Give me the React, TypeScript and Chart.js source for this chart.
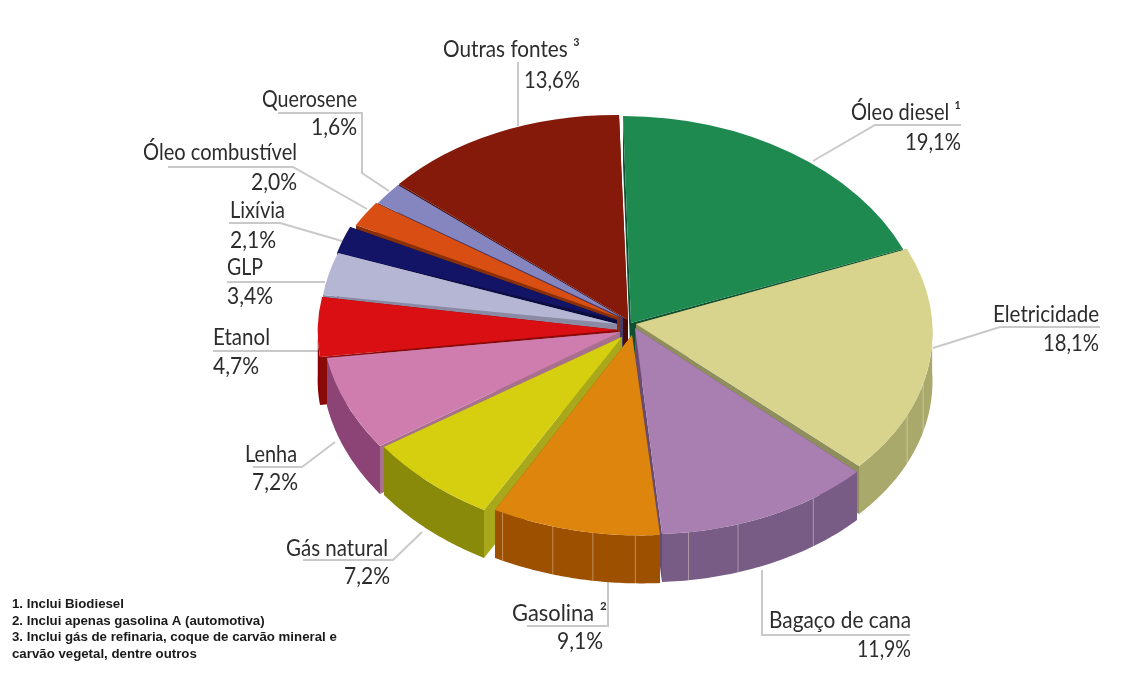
import React, { useEffect, useRef } from "react";
import { Chart, registerables } from "chart.js";

Chart.register(...registerables);

const categories = ["Óleo diesel ¹", "Eletricidade", "Bagaço de cana", "Gasolina ²", "Gás natural", "Lenha", "Etanol", "GLP", "Lixívia", "Óleo combustível", "Querosene", "Outras fontes ³"];
const shares = [19.1, 18.1, 11.9, 9.1, 7.2, 7.2, 4.7, 3.4, 2.1, 2.0, 1.6, 13.6];
const topColors = ["#1e8a50", "#d9d48d", "#a87fb0", "#de850d", "#d5cf10", "#cf7dae", "#d90f14", "#b5b6d3", "#141466", "#d94e12", "#8585c0", "#861a0a"];
const wallColors = ["#14603a", "#aaa96c", "#795c86", "#9c5000", "#8a8a0a", "#8c4477", "#8a0000", "#8a8aa5", "#0c0c40", "#8a3008", "#5f5f90", "#5c1005"];
const cutColors = ["#0e5030", "#8f8f5e", "#6b4a70", "#8a5a10", "#a9a81a", "#a8708c", "#8a0a0a", "#8a8aa5", "#0c0c40", "#8a3008", "#4a3a66", "#4a0c04"];
const footnotes = ["1. Inclui Biodiesel", "2. Inclui apenas gasolina A (automotiva)", "3. Inclui gás de refinaria, coque de carvão mineral e", "carvão vegetal, dentre outros"];

// layout of the drawing (not data): the perspective warp of each library arc
const RX = 307, DEPTH = 48;
// [tip, corner at slice start, corner at slice end]
const warp: number[][][] = [
  [[631, 323], [623, 116], [903, 249]],
  [[636, 324], [907, 249], [859, 466]],
  [[635, 328], [857, 472], [662, 534]],
  [[632, 335], [660, 535], [495, 510]],
  [[622, 337], [484, 510], [384, 447]],
  [[620, 332], [380, 446], [327, 358]],
  [[618, 330], [320, 357], [322, 297]],
  [[617, 324], [323, 295], [338, 253]],
  [[617, 320], [337, 253], [350, 227]],
  [[620, 318], [356, 225], [376, 203]],
  [[623, 318], [378, 203], [398, 185]],
  [[628, 320], [399, 184], [619, 115]],
];
const wallSeams: number[][] = [[], [907, 923], [688, 738, 813], [503, 553, 593, 635], [], [], [], [], [], [], [], []];
// [align, x, name baseline, value x, value baseline, name width, value width]
const labelPos: [CanvasTextAlign, number, number, number, number, number, number][] = [
  ["right", 961, 120, 961, 150, 110, 56],
  ["right", 1099, 322, 1099, 351, 106, 56],
  ["right", 911, 628, 911, 657, 142, 54],
  ["right", 607, 621, 603, 649, 95, 46],
  ["right", 388, 556, 390, 584, 102, 46],
  ["right", 297, 462, 298, 490, 52, 46],
  ["left", 213, 345, 213, 374, 57, 46],
  ["left", 227, 275, 227, 304, 36, 46],
  ["left", 230, 218, 230, 248, 55, 46],
  ["right", 297, 160, 297, 190, 154, 46],
  ["right", 357, 107, 357, 135, 95, 46],
  ["right", 580, 57, 580, 88, 137, 56],
];
const leaders: number[][][] = [
  [[813, 161], [875, 125], [961, 125]],
  [[933, 348], [1000, 327], [1100, 327]],
  [[762, 570], [762, 635], [910, 635]],
  [[608, 580], [608, 626], [527, 626]],
  [[422, 532], [393, 560], [303, 560]],
  [[335, 442], [302, 467], [253, 467]],
  [[320, 351], [213, 351]],
  [[325, 282], [227, 282]],
  [[342, 241], [280, 223], [229, 223]],
  [[367, 209], [293, 167], [168, 167]],
  [[389, 191], [362, 173], [362, 113], [278, 113]],
  [[518, 126], [518, 62]],
];

const pct = (v: number) => v.toFixed(1).replace(".", ",") + "%";

// affine map taking the unit-circle slice to the tip and two corners given in warp
function solveWarp(i: number, s: number, e: number) {
  const [T, S, E] = warp[i];
  const us = Math.cos(s), vs = Math.sin(s), ue = Math.cos(e), ve = Math.sin(e);
  const det = us * ve - vs * ue;
  const sx = S[0] - T[0], sy = S[1] - T[1], ex = E[0] - T[0], ey = E[1] - T[1];
  return {
    a: (sx * ve - vs * ex) / det,
    b: (us * ex - sx * ue) / det,
    c: (sy * ve - vs * ey) / det,
    d: (us * ey - sy * ue) / det,
    tx: T[0],
    ty: T[1],
  };
}

const pie3d = {
  id: "pie3d",
  beforeDatasetsDraw(chart: any) {
    const ctx = chart.ctx;
    ctx.save();
    ctx.strokeStyle = "#c9c9c9";
    ctx.lineWidth = 2;
    leaders.forEach((pts) => {
      ctx.beginPath();
      pts.forEach((p, i) => (i ? ctx.lineTo(p[0], p[1]) : ctx.moveTo(p[0], p[1])));
      ctx.stroke();
    });
    ctx.restore();
  },
  beforeDatasetDraw(chart: any, args: any) {
    const ctx = chart.ctx;
    const arcs: any[] = args.meta.data;
    const order = arcs
      .map((el, i) => {
        const p = el.getProps(["startAngle", "endAngle"], true);
        return { el, i, s: p.startAngle, e: p.endAngle, mid: Math.sin((p.startAngle + p.endAngle) / 2), m: solveWarp(i, p.startAngle, p.endAngle) };
      })
      .sort((a, b) => a.mid - b.mid);

    // extruded sides, furthest first
    order.forEach(({ i, s, e, m }) => {
      const pt = (a: number, d: number, r = 1) => [
        m.tx + r * (m.a * Math.cos(a) + m.b * Math.sin(a)),
        m.ty + r * (m.c * Math.cos(a) + m.d * Math.sin(a)) + d,
      ];
      ctx.save();
      [s, e].forEach((a) => {
        ctx.fillStyle = cutColors[i];
        ctx.beginPath();
        const q = [pt(a, 0, 0), pt(a, 0), pt(a, DEPTH), pt(a, DEPTH, 0)];
        q.forEach((p, k) => (k ? ctx.lineTo(p[0], p[1]) : ctx.moveTo(p[0], p[1])));
        ctx.closePath();
        ctx.fill();
      });
      const TAU = 2 * Math.PI;
      let a0 = ((s % TAU) + TAU) % TAU;
      if (a0 > Math.PI) a0 -= TAU;
      let a1 = a0 + (e - s);
      a0 = Math.max(a0, 0);
      a1 = Math.min(a1, Math.PI);
      if (a1 > a0) {
        ctx.fillStyle = wallColors[i];
        ctx.beginPath();
        const n = 50;
        for (let k = 0; k <= n; k++) {
          const p = pt(a0 + ((a1 - a0) * k) / n, 0);
          k ? ctx.lineTo(p[0], p[1]) : ctx.moveTo(p[0], p[1]);
        }
        for (let k = n; k >= 0; k--) {
          const p = pt(a0 + ((a1 - a0) * k) / n, DEPTH);
          ctx.lineTo(p[0], p[1]);
        }
        ctx.closePath();
        ctx.fill();
        ctx.strokeStyle = "rgba(255,240,220,0.4)";
        ctx.lineWidth = 1;
        wallSeams[i].forEach((x) => {
          let best = a0, gap = Infinity;
          for (let k = 0; k <= 200; k++) {
            const a = a0 + ((a1 - a0) * k) / 200;
            const g = Math.abs(pt(a, 0)[0] - x);
            if (g < gap) { gap = g; best = a; }
          }
          const t = pt(best, 0), b = pt(best, DEPTH);
          ctx.beginPath();
          ctx.moveTo(t[0], t[1]);
          ctx.lineTo(b[0], b[1]);
          ctx.stroke();
        });
      }
      ctx.restore();
    });
    // top faces, drawn by the library's arc elements
    order.forEach(({ el, m }) => {
      const R = el.outerRadius;
      ctx.save();
      ctx.transform(m.a, m.c, m.b, m.d, m.tx, m.ty);
      ctx.scale(1 / R, 1 / R);
      ctx.translate(-el.x, -el.y);
      el.draw(ctx, chart.chartArea);
      ctx.restore();
    });
    return false;
  },
  afterDatasetsDraw(chart: any) {
    const ctx = chart.ctx;
    ctx.save();
    ctx.fillStyle = "#2c2c2c";
    ctx.textBaseline = "alphabetic";
    ctx.font = "23px Lato, 'Open Sans', sans-serif";
    categories.forEach((name, i) => {
      const [al, x, y, vx, vy, w, vw] = labelPos[i];
      ctx.textAlign = al;
      ctx.fillText(name, x, y, w);
      ctx.fillText(pct(shares[i]), vx, vy, vw);
    });
    ctx.textAlign = "left";
    ctx.fillStyle = "#1a1a1a";
    ctx.font = "bold 13.25px 'Liberation Sans', Arial, sans-serif";
    footnotes.forEach((t, i) => ctx.fillText(t, 12, 608 + i * 16.5));
    ctx.restore();
  },
};

export default function App() {
  const ref = useRef<HTMLCanvasElement>(null);
  useEffect(() => {
    const chart = new Chart(ref.current!, {
      type: "pie",
      data: {
        labels: categories,
        datasets: [{ data: shares, backgroundColor: topColors, borderWidth: 0, radius: RX, clip: false } as any],
      },
      options: {
        responsive: false,
        animation: false,
        layout: { padding: { left: 127, bottom: 48 } },
        plugins: { legend: { display: false }, tooltip: { enabled: false } },
      },
      plugins: [pie3d],
    });
    return () => chart.destroy();
  }, []);
  return (
    <canvas
      ref={ref}
      width={1129}
      height={698}
      style={{ position: "fixed", left: 0, top: 0, width: 1129, height: 698 }}
    />
  );
}
